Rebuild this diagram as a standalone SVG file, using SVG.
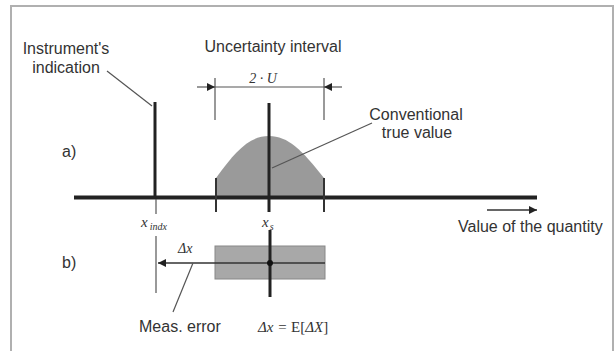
<svg xmlns="http://www.w3.org/2000/svg" width="616" height="351" viewBox="0 0 616 351">
<style>
.t{font-family:"Liberation Sans",Arial,sans-serif;font-size:16px;fill:#333}
.m{font-family:"Liberation Serif","Times New Roman",serif;font-style:italic;fill:#333}
.thin{stroke:#555;stroke-width:1.2;fill:none}
.thick{stroke:#222;stroke-width:3;fill:none}
</style>
<defs>
<marker id="ah" viewBox="0 0 10 10" refX="10" refY="5" markerWidth="10" markerHeight="8" markerUnits="userSpaceOnUse" orient="auto">
<path d="M0,0 L10,5 L0,10 z" fill="#222"/>
</marker>
</defs>
<rect x="11" y="6" width="602" height="350" fill="#fff" stroke="#b0b0b0" stroke-width="2"/>

<g id="curve">
<path d="M216,197 L216,178 C236,150 250,136 269,136 C288,136 302,150 324,178 L324,197 Z" fill="#9a9a9a"/>
</g>
<g id="rect-b">
<rect x="215" y="246" width="110" height="33" fill="#a8a8a8" stroke="#888" stroke-width="1"/>
</g>

<g id="connectors">
<line x1="74" y1="197.5" x2="537" y2="197.5" stroke="#222" stroke-width="4"/>
<line x1="487" y1="210" x2="537" y2="210" stroke="#333" stroke-width="1.3" marker-end="url(#ah)"/>
<line x1="155" y1="102" x2="155" y2="197" class="thick"/>
<line x1="156" y1="199" x2="156" y2="214" class="thin"/>
<line x1="156" y1="236" x2="156" y2="293" class="thin"/>
<line x1="269" y1="103" x2="269" y2="212" class="thick"/>
<line x1="270" y1="230" x2="270" y2="297" class="thick"/>
<line x1="215" y1="78" x2="215" y2="120" class="thin"/>
<line x1="324" y1="78" x2="324" y2="120" class="thin"/>
<line x1="216" y1="178" x2="216" y2="212" stroke="#333" stroke-width="2"/>
<line x1="324" y1="178" x2="324" y2="212" stroke="#333" stroke-width="2"/>
<line x1="215" y1="87" x2="324" y2="87" class="thin"/>
<line x1="197" y1="87" x2="215" y2="87" class="thin" marker-end="url(#ah)"/>
<line x1="342" y1="87" x2="324" y2="87" class="thin" marker-end="url(#ah)"/>
<line x1="107" y1="71" x2="152" y2="106" class="thin"/>
<line x1="272" y1="168" x2="372" y2="123" class="thin"/>
<line x1="325" y1="263" x2="158" y2="263" stroke="#333" stroke-width="1.3" marker-end="url(#ah)"/>
<circle cx="270" cy="263" r="3" fill="#111"/>
<line x1="173" y1="312" x2="193" y2="263" class="thin"/>
</g>

<g id="labels">
<text class="t" x="66" y="54" text-anchor="middle">Instrument's</text>
<text class="t" x="66" y="73" text-anchor="middle">indication</text>
<text class="t" x="273" y="52" text-anchor="middle">Uncertainty interval</text>
<text class="m" x="263" y="83" font-size="14" text-anchor="middle">2 · U</text>
<text class="t" x="416" y="120" text-anchor="middle">Conventional</text>
<text class="t" x="417" y="138" text-anchor="middle">true value</text>
<text class="t" x="62" y="157" font-size="12">a)</text>
<text class="t" x="62" y="268" font-size="12">b)</text>
<text class="m" x="141" y="227" font-size="15">x<tspan font-size="10" dy="3" dx="2">indx</tspan></text>
<text class="m" x="262" y="227" font-size="15">x<tspan font-size="10" dy="3" dx="1">s</tspan></text>
<text class="t" x="458" y="232">Value of the quantity</text>
<text class="m" x="178" y="253" font-size="14">Δx</text>
<text class="t" x="139" y="332">Meas. error</text>
<text class="m" x="258" y="332" font-size="15">Δx = <tspan font-style="normal">E[</tspan>ΔX<tspan font-style="normal">]</tspan></text>
</g>
</svg>
